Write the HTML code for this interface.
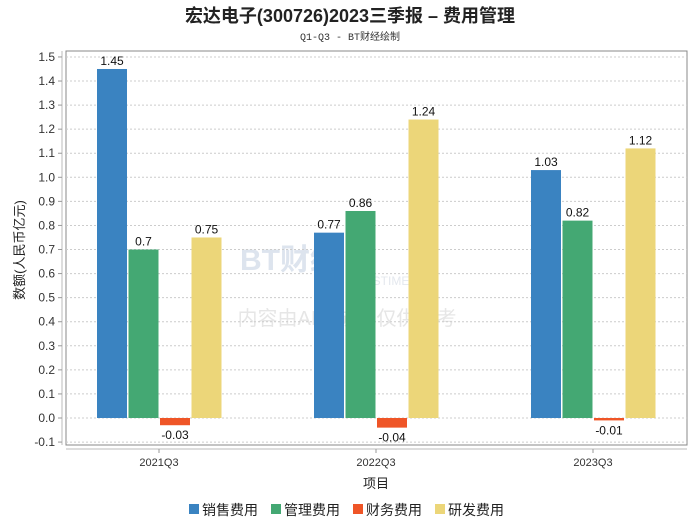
<!DOCTYPE html>
<html><head><meta charset="utf-8"><style>
body{margin:0;background:#fff;font-family:"Liberation Sans","Noto Sans CJK SC",sans-serif}
</style></head><body>
<svg id="c" width="700" height="524" xmlns="http://www.w3.org/2000/svg">
<text x="350" y="22" text-anchor="middle" font-size="18" font-weight="bold" fill="#222" font-family="Liberation Sans,Noto Sans CJK SC,sans-serif">宏达电子(300726)2023三季报 – 费用管理</text>
<text x="350" y="40" text-anchor="middle" font-size="10" fill="#333" font-family="Liberation Mono,Noto Sans CJK SC,monospace">Q1-Q3 - BT财经绘制</text>
<rect x="66" y="51" width="621" height="394" fill="none" stroke="#888"/>
<line x1="62" y1="51" x2="62" y2="445" stroke="#bbb"/>
<line x1="66" y1="449" x2="687" y2="449" stroke="#bbb"/>
<text x="240" y="270" font-size="30" fill="#dde4ee" font-weight="bold">BT财经</text>
<text x="320" y="285" font-size="12" fill="#e4e8ee">BUSINESSTIMES</text>
<text x="347" y="325" text-anchor="middle" font-size="20" fill="#e6e6e6">内容由AI生成，仅供参考</text>
<g id="grid"></g><g id="bars"></g>
<text transform="translate(24,250) rotate(-90)" text-anchor="middle" font-size="13" fill="#222">数额(人民币亿元)</text>
<text x="376" y="488" text-anchor="middle" font-size="13" fill="#222">项目</text>
<g id="legend"></g>
</svg>
<script>
const categories=["2021Q3","2022Q3","2023Q3"];
const seriesNames=["销售费用","管理费用","财务费用","研发费用"];
const sales=[1.45,0.77,1.03];
const admin=[0.7,0.86,0.82];
const finance=[-0.03,-0.04,-0.01];
const rnd=[0.75,1.24,1.12];
const yTicks=[-0.1,0,0.1,0.2,0.3,0.4,0.5,0.6,0.7,0.8,0.9,1.0,1.1,1.2,1.3,1.4,1.5];
const colors=["#3a83c1","#44a873","#ef5527","#ecd679"];
const NS="http://www.w3.org/2000/svg";
function y(v){return 418-v*240.7;}
function xc(i){return 159+i*217;}
function mk(t,a,p){const e=document.createElementNS(NS,t);for(const k in a)e.setAttribute(k,a[k]);p.appendChild(e);return e;}
const g=document.getElementById('grid');
yTicks.forEach(v=>{
 const l=mk('line',{x1:66,x2:687,y1:y(v),y2:y(v),stroke:'#ccc','stroke-dasharray':'2,2'},g);
 
 
 const tk=mk('line',{x1:58,x2:62,y1:y(v),y2:y(v),stroke:'#999'},g);
 
 
 const t=mk('text',{x:55,y:y(v)+4,'text-anchor':'end','font-size':12,fill:'#333'},g);
 t.textContent=v.toFixed(1);
 
 
});
const b=document.getElementById('bars');
const series=[sales,admin,finance,rnd];
categories.forEach((c,i)=>{
 const tk=mk('line',{x1:xc(i),x2:xc(i),y1:449,y2:453,stroke:'#999'},b);
 
 
 const t=mk('text',{x:xc(i),y:466,'text-anchor':'middle','font-size':11,fill:'#333'},b);
 t.textContent=c;
 
 
 series.forEach((s,j)=>{
  const v=s[i];const x0=xc(i)-62+j*31.5;
  const r=mk('rect',{x:x0,y:Math.min(y(v),y(0)),width:30,height:Math.abs(y(v)-y(0)),fill:colors[j]},b);
  
  
  const lt=mk('text',{x:x0+15,y:v>=0?y(v)-4:y(v)+14,'text-anchor':'middle','font-size':12,fill:'#111'},b);
  lt.textContent=String(v);
  
  
 });
});
const L=document.getElementById('legend');
seriesNames.forEach((n,j)=>{
 const x0=189+j*82;
 const r=mk('rect',{x:x0,y:504,width:10,height:10,fill:colors[j]},L);
 
 
 const t=mk('text',{x:x0+13,y:515,'font-size':14,fill:'#222'},L);
 t.textContent=n;
 
 
});
</script>
</body></html>
